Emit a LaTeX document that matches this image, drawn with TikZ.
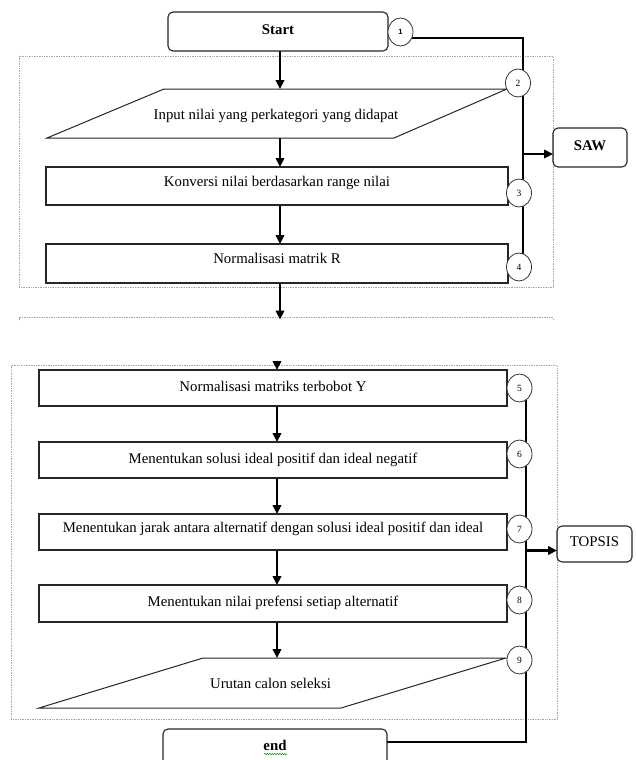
\documentclass[tikz,border=0pt]{standalone}
\usepackage{fontspec}
\setmainfont{Liberation Serif}
\newfontfamily\numsans{Liberation Sans}
\usetikzlibrary{arrows.meta,shapes.geometric,backgrounds,decorations.pathmorphing}
\begin{document}
\begin{tikzpicture}[x=1pt,y=-1pt,
  every node/.style={font=\fontsize{14.8}{17}\selectfont, inner sep=0pt, outer sep=0pt},
  box/.style={draw=black!85, line width=1.1pt, minimum height=#1, text height=10pt, text depth=10pt},
  wbox/.style={box=#1, minimum width=462pt},
  bbox/.style={box=#1, minimum width=468pt, text depth=4pt},
  term/.style={draw=black!85, line width=1.1pt, rounded corners=5pt, text height=10pt, text depth=4pt},
  circ/.style={ellipse, draw=black!80, line width=0.8pt, fill=white, minimum width=25pt, minimum height=28pt, font=\fontsize{9.5}{10}\selectfont},
  conn/.style={line width=2.8pt, black},
  arr/.style={conn, -{Triangle[length=9pt,width=8.5pt]}},
  frame/.style={draw=black!35, densely dotted, line width=0.7pt},
  para/.style={draw=black!85, line width=1pt, line join=miter}
]
\useasboundingbox (0,0) rectangle (635,760);

% terminals
\node[term, minimum width=220pt, minimum height=39pt, font=\fontsize{14.8}{17}\selectfont\bfseries] (start) at (278,31.5) {Start};
\node[term, minimum width=74pt, minimum height=39pt, font=\fontsize{14.8}{17}\selectfont\bfseries, text depth=5pt] (saw) at (590,147.5) {SAW};
\node[term, minimum width=75pt, minimum height=36pt, text depth=5pt] (topsis) at (594.5,544) {TOPSIS};
\node[term, minimum width=224pt, minimum height=46pt, font=\fontsize{14.8}{17}\selectfont\bfseries, text depth=13pt] (endb) at (275,752) {end};

% parallelogram 1
\coordinate (p1tl) at (164,89);
\coordinate (p1tr) at (507,89);
\coordinate (p1br) at (394,138);
\coordinate (p1bl) at (47,138);
\draw[para] (p1tl) -- (p1tr) -- (p1br) -- (p1bl) -- cycle;
\node[anchor=base] (p1) at (276,119.5) {Input nilai yang perkategori yang didapat};
\coordinate (p1n) at (280,89);
\coordinate (p1s) at (280,138);

% top boxes
\node[wbox=38pt] (konv) at (277,186) {Konversi nilai berdasarkan range nilai};
\node[wbox=39pt] (normR) at (277,263.5) {Normalisasi matrik R};

% bottom boxes
\node[bbox=36pt, text depth=3pt] (boxY) at (273,388) {Normalisasi matriks terbobot Y};
\node[bbox=36pt] (solusi) at (273,460) {Menentukan solusi ideal positif dan ideal negatif};
\node[bbox=36pt, text depth=9pt] (jarak) at (273,532) {Menentukan jarak antara alternatif dengan solusi ideal positif dan ideal};
\node[bbox=37pt] (pref) at (273,603.5) {Menentukan nilai prefensi setiap alternatif};

% parallelogram 2
\coordinate (p2tl) at (203,658);
\coordinate (p2tr) at (506,658);
\coordinate (p2br) at (341,708);
\coordinate (p2bl) at (39,708);
\draw[para] (p2tl) -- (p2tr) -- (p2br) -- (p2bl) -- cycle;
\node[anchor=base] (p2) at (270.5,688) {Urutan calon seleksi};
\coordinate (p2n) at (277,658);

% circles
\node[circ, font=\numsans\fontsize{7.5}{8}\selectfont\bfseries] (c1) at (400.5,32) {1};
\node[circ] (c2) at (518,83) {2};
\node[circ] (c3) at (519,193) {3};
\node[circ] (c4) at (519,267) {4};
\node[circ] (c5) at (519.5,388) {5};
\node[circ] (c6) at (519.5,454) {6};
\node[circ] (c7) at (519.5,529) {7};
\node[circ] (c8) at (519.5,600) {8};
\node[circ] (c9) at (519.5,660) {9};

% helper coordinates
\coordinate (v1) at (523,38);
\coordinate (sawa) at (523,154);
\coordinate (l4) at (510,270);
\coordinate (g1) at (280,319.5);
\coordinate (g2) at (277,360.5);
\coordinate (ax2) at (277,0);
\coordinate (l5) at (510,393);
\coordinate (v2) at (526,742);
\coordinate (topa) at (526,550.5);

\begin{scope}[on background layer]
  \fill[white] (0,0) rectangle (635,760);
  % frames
  \draw[frame] (19,56) rectangle (553,287);
  \draw[frame] (19,320) -- (19,317.7) -- (553,317.7) -- (553,320);
  \draw[frame] (11,365.7) rectangle (557,719);
  % flow arrows top
  \draw[arr] (start.south -| p1n) -- (p1n);
  \draw[arr] (p1s) -- (konv.north -| p1s);
  \draw[arr] (konv.south -| p1s) -- (normR.north -| p1s);
  \draw[arr] (normR.south -| p1s) -- (g1);
  % flow arrows bottom
  \draw[arr] (g2) -- (boxY.north -| g2);
  \draw[arr] (boxY.south -| ax2) -- (solusi.north -| ax2);
  \draw[arr] (solusi.south -| ax2) -- (jarak.north -| ax2);
  \draw[arr] (jarak.south -| ax2) -- (pref.north -| ax2);
  \draw[arr] (pref.south -| ax2) -- (p2n);
  % SAW bracket
  \draw[conn, line join=miter] (c1.center |- v1) -- (v1) -- (c4.center -| v1);
  \draw[conn] (normR.east |- l4) -- (c4.center |- l4);
  \draw[arr] (sawa) -- (saw.west |- sawa);
  % TOPSIS bracket
  \draw[conn, line join=miter] (c5.center -| v2) -- (v2) -- (endb.east |- v2);
  \draw[conn] (boxY.east |- l5) -- (c5.center |- l5);
  \draw[arr] (topa) -- (topsis.west |- topa);
\end{scope}

% spell-check underline under "end"
\draw[green!60!black, line width=0.5pt, decorate, decoration={snake, amplitude=0.7pt, segment length=2.5pt}] (264,754) -- (287,754);
\end{tikzpicture}
\end{document}
